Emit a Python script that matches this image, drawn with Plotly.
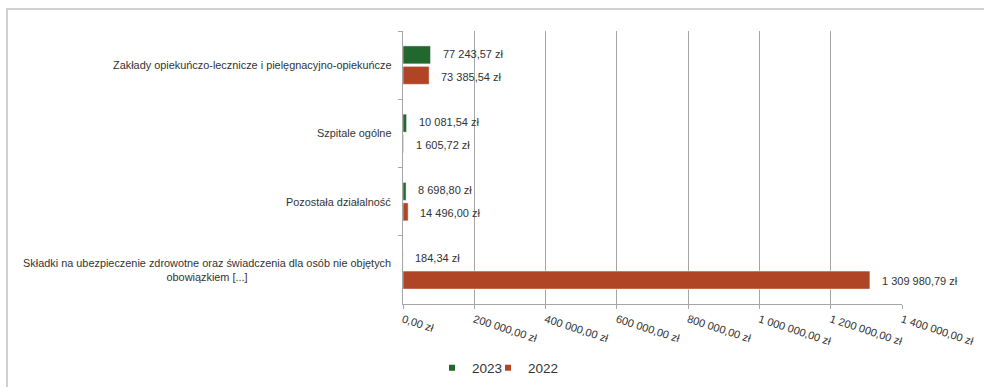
import plotly.graph_objects as go

categories = [
    "Zakłady opiekuńczo-lecznicze i pielęgnacyjno-opiekuńcze",
    "Szpitale ogólne",
    "Pozostała działalność",
    "Składki na ubezpieczenie zdrowotne oraz świadczenia dla osób nie objętych<br>obowiązkiem [...]",
]
values_2023 = [77243.57, 10081.54, 8698.80, 184.34]
values_2022 = [73385.54, 1605.72, 14496.00, 1309980.79]
labels_2023 = ["77 243,57 zł", "10 081,54 zł", "8 698,80 zł", "184,34 zł"]
labels_2022 = ["73 385,54 zł", "1 605,72 zł", "14 496,00 zł", "1 309 980,79 zł"]
tick_vals = [0, 200000, 400000, 600000, 800000, 1000000, 1200000, 1400000]
tick_text = ["0,00 zł", "200 000,00 zł", "400 000,00 zł", "600 000,00 zł",
             "800 000,00 zł", "1 000 000,00 zł", "1 200 000,00 zł", "1 400 000,00 zł"]
series_names = ["2023", "2022"]
colors = ["#22682E", "#B04526"]

FONT = "Liberation Sans, Arial, sans-serif"
TXT = "#333333"

fig = go.Figure()
for name, vals, col, leg in zip(series_names, [values_2023, values_2022], colors, ["legend", "legend2"]):
    fig.add_trace(go.Bar(
        y=categories, x=vals, name=name, orientation="h",
        marker=dict(color=col, line=dict(color="rgba(255,255,255,0.5)", width=1)),
        showlegend=False, hoverinfo="x+y",
    ))
    fig.add_trace(go.Scatter(
        x=[None], y=[None], mode="markers", name=name, legend=leg,
        marker=dict(symbol="square", size=6, color=col),
    ))

annotations = []
for cat in categories:
    annotations.append(dict(
        x=0, xref="paper", y=cat, yref="y", xanchor="right", yanchor="middle",
        xshift=-10, text=cat, showarrow=False, align="center",
        font=dict(family=FONT, size=10.9, color=TXT),
    ))
for vals, labs, shift in [(values_2023, labels_2023, 11.5), (values_2022, labels_2022, -11.5)]:
    for cat, v, lab in zip(categories, vals, labs):
        annotations.append(dict(
            x=v, xref="x", y=cat, yref="y", xanchor="left", yanchor="middle",
            xshift=10, yshift=shift, text=lab, showarrow=False,
            font=dict(family=FONT, size=11, color=TXT),
        ))

L, R, T, B = 403, 82, 31, 83
W, H = 984, 387
pw, ph = W - L - R, H - T - B

legend_style = dict(orientation="h", xanchor="left", y=(304 - 368) / ph, yanchor="middle",
                    font=dict(size=13.5, color=TXT), itemwidth=30, bgcolor="rgba(0,0,0,0)")

fig.update_layout(
    width=W, height=H,
    margin=dict(l=L, r=R, t=T, b=B, pad=0, autoexpand=False),
    paper_bgcolor="white", plot_bgcolor="white",
    barmode="group", bargap=0.4, bargroupgap=0.12,
    font=dict(family=FONT, color=TXT),
    annotations=annotations,
    legend=dict(x=(432 - L) / pw, **legend_style),
    legend2=dict(x=(488 - L) / pw, **legend_style),
    shapes=[dict(type="rect", xref="paper", yref="paper",
                 x0=(7 - L) / pw, x1=(1000 - L) / pw,
                 y0=(304 - 400) / ph, y1=(304 - 9) / ph,
                 line=dict(color="#d0d0d0", width=2), layer="below")],
)
fig.update_xaxes(
    range=[0, 1400000], tickvals=tick_vals, ticktext=tick_text, tickangle=18,
    showgrid=True, gridcolor="#a6a6a6", gridwidth=1, automargin=False,
    showline=True, linecolor="#a6a6a6", ticks="outside", ticklen=4, tickcolor="#a6a6a6",
    tickfont=dict(family=FONT, size=11, color=TXT), zeroline=False, fixedrange=True,
)
fig.update_yaxes(
    autorange="reversed", showticklabels=False, showgrid=False, automargin=False,
    showline=True, linecolor="#a6a6a6", ticks="outside", ticklen=4, tickcolor="#a6a6a6",
    tickson="boundaries", fixedrange=True,
)

fig.write_html(
    "out.html",
    config={"displayModeBar": False},
    post_script="document.body.style.margin='0';document.body.style.overflow='hidden';",
)
